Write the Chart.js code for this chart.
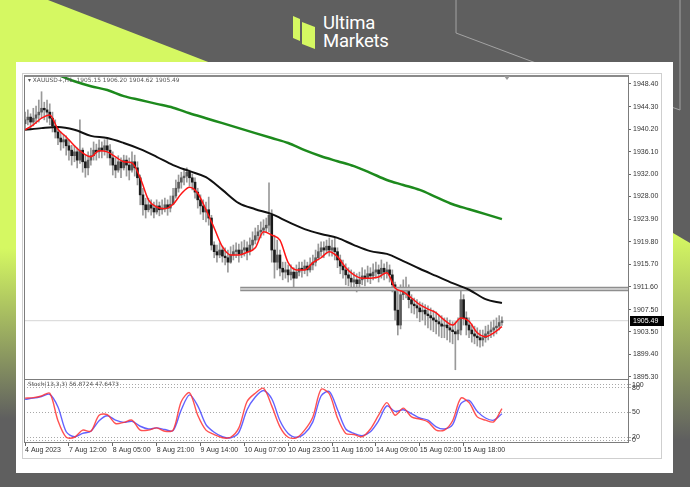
<!DOCTYPE html>
<html><head><meta charset="utf-8">
<script src="https://cdn.jsdelivr.net/npm/chart.js@4.4.0/dist/chart.umd.min.js"></script>
<style>
html,body{margin:0;padding:0;width:690px;height:487px;overflow:hidden;background:#5f5f5f;font-family:"Liberation Sans",Arial,sans-serif}
.abs{position:absolute}
#panel{left:16px;top:62px;width:657px;height:411px;background:#fff}
#frame{left:22px;top:73px;width:638px;height:384px;border:1px solid #cfcfcf}
#mainBox{left:24px;top:75px;width:603px;height:302px;border:1px solid #7c7c7c;border-top:2px solid #8a8a8a}
#stBox{left:24px;top:379px;width:603px;height:62px;border:1px solid #7c7c7c}
#c1{left:24px;top:76px}
#c2{left:24px;top:380px}
.logo{color:#fff;font-family:Roboto,"Liberation Sans",sans-serif;font-size:18.5px;line-height:18px;letter-spacing:-0.2px}
.leg{font-family:"DejaVu Sans",sans-serif;color:#555;white-space:nowrap}
#shift{left:504px;top:76px;width:0;height:0;border-left:3px solid transparent;border-right:3px solid transparent;border-top:4px solid #999}
</style></head>
<body>
<svg class="abs" style="left:0;top:0" width="690" height="487">
 <defs>
  <linearGradient id="gl" x1="0" y1="0" x2="0" y2="487" gradientUnits="userSpaceOnUse">
   <stop offset="0" stop-color="#d5f862"/><stop offset="0.51" stop-color="#d5f862"/><stop offset="0.86" stop-color="#5f5f5f"/>
  </linearGradient>
  <linearGradient id="gr" x1="0" y1="235" x2="0" y2="440" gradientUnits="userSpaceOnUse">
   <stop offset="0" stop-color="#d5f862"/><stop offset="1" stop-color="#5f5f5f"/>
  </linearGradient>
 </defs>
 <polygon points="0,0 48,0 260,82 16,82 16,487 0,487" fill="url(#gl)"/>
 <polygon points="600,190 690,243 690,487 600,487" fill="url(#gr)"/>
 <polyline points="456,0 456,33 560,72" stroke="#a3a3a3" stroke-width="1" fill="none"/>
 <polyline points="680,0 680,110 640,96" stroke="#a3a3a3" stroke-width="1" fill="none"/>
 <polygon points="293,16 300,19 300,41 293,38" fill="#d5f862"/>
 <polygon points="302,22 315,27 315,49 302,44" fill="#d5f862"/>
</svg>
<div class="abs logo" style="left:323px;top:14px">Ultima</div>
<div class="abs logo" style="left:323px;top:32px">Markets</div>
<div class="abs" id="panel"></div>
<div class="abs" id="frame"></div>
<canvas class="abs" id="c1" width="644" height="312"></canvas>
<canvas class="abs" id="c2" width="644" height="80"></canvas>
<div class="abs" id="mainBox"></div>
<div class="abs" id="stBox"></div>
<div class="abs" id="shift"></div>
<div class="abs leg" style="left:28px;top:77px;font-size:5.9px">▾ XAUUSD+,H1&nbsp; 1905.15 1906.20 1904.62 1905.49</div>
<div class="abs leg" style="left:28px;top:381px;font-size:5.8px">Stoch(13,3,3) 56.8724 47.6473</div>
<script>
// ---------- data ----------
const X_MIN = -0.4, X_MAX = 220;
const OPEN0 = 1941.2;
const CLOSE = [
1941.9,1942.4,1941.5,1942.2,1942.8,1943.3,1944.0,1943.7,1943.3,1942.2,
1940.8,1939.7,1938.6,1937.9,1938.3,1937.2,1936.4,1935.4,1936.1,1934.6,
1936.4,1934.3,1933.2,1934.6,1935.4,1936.4,1936.1,1936.8,1936.4,1937.2,
1936.4,1935.0,1933.7,1932.8,1934.3,1933.2,1934.6,1933.7,1932.8,1934.3,
1933.2,1931.4,1928.3,1926.5,1925.6,1926.5,1925.9,1925.2,1926.3,1925.6,
1925.9,1926.5,1925.9,1926.6,1928.1,1929.5,1930.6,1931.4,1931.7,1932.4,
1931.4,1930.6,1928.8,1927.4,1926.3,1925.2,1925.6,1924.1,1919.2,1918.0,
1917.4,1918.3,1917.2,1916.9,1916.1,1917.4,1918.0,1918.3,1917.6,1918.3,
1918.7,1918.0,1919.2,1920.1,1920.9,1921.6,1921.9,1922.3,1922.8,1924.6,
1918.3,1916.1,1917.4,1915.0,1914.3,1914.7,1913.8,1914.3,1913.2,1914.3,
1915.0,1914.7,1915.4,1914.7,1915.6,1916.1,1916.9,1918.0,1918.7,1918.3,
1919.0,1918.3,1918.7,1918.0,1916.5,1915.4,1914.7,1913.8,1913.2,1912.5,
1912.9,1912.2,1912.9,1913.6,1913.2,1914.0,1913.6,1914.3,1914.7,1914.0,
1915.0,1914.3,1914.7,1913.8,1912.0,1907.4,1904.7,1910.2,1911.1,1911.4,
1909.3,1908.5,1908.2,1907.8,1907.1,1907.4,1906.7,1906.4,1906.0,1905.6,
1905.3,1904.9,1904.5,1904.7,1904.2,1903.8,1903.5,1903.1,1903.8,1909.3,
1906.0,1904.7,1903.8,1903.1,1902.7,1902.4,1902.0,1902.4,1903.1,1903.5,
1903.8,1904.2,1904.5,1905.15,1905.49];
const HIGH = [
1943.3,1943.7,1943.0,1944.0,1944.4,1945.5,1947.0,1945.1,1945.5,1944.8,
1943.3,1941.9,1940.4,1939.7,1939.3,1939.0,1938.3,1937.3,1937.2,1936.8,
1941.9,1936.8,1935.5,1936.1,1936.8,1937.9,1937.5,1938.3,1937.9,1938.3,
1938.6,1937.4,1936.1,1935.0,1935.4,1935.0,1935.5,1935.4,1935.0,1936.1,
1935.5,1934.3,1931.9,1929.5,1927.7,1927.7,1927.4,1927.0,1927.4,1927.0,
1927.4,1927.7,1927.4,1928.1,1929.5,1931.0,1931.9,1932.4,1932.8,1933.2,
1932.8,1932.1,1931.4,1929.5,1928.3,1927.4,1927.0,1927.9,1924.6,1919.8,
1919.2,1919.6,1919.0,1918.7,1918.3,1918.9,1919.2,1919.6,1919.4,1919.8,
1920.1,1919.8,1920.5,1921.6,1922.3,1922.8,1923.4,1923.8,1924.1,1930.5,
1925.6,1921.0,1920.1,1918.3,1916.1,1916.1,1915.6,1915.6,1915.1,1915.6,
1916.1,1916.1,1916.5,1916.1,1916.9,1917.4,1918.3,1919.4,1919.8,1919.8,
1920.1,1920.5,1920.1,1920.5,1918.7,1917.4,1916.5,1915.8,1915.1,1914.7,
1914.3,1914.0,1914.3,1915.1,1914.7,1915.4,1915.1,1915.8,1916.1,1915.6,
1916.5,1915.8,1916.1,1915.6,1914.7,1912.5,1911.1,1912.0,1912.9,1913.4,
1912.0,1910.2,1909.6,1909.3,1908.9,1908.7,1908.4,1908.2,1907.8,1907.4,
1907.1,1906.5,1906.4,1906.0,1906.0,1905.6,1905.3,1905.3,1906.0,1911.4,
1910.2,1907.1,1906.0,1904.9,1904.5,1904.2,1903.8,1903.8,1904.5,1904.7,
1905.3,1905.6,1906.0,1906.4,1906.20];
const LOW = [
1940.4,1941.0,1940.1,1940.8,1941.2,1941.5,1942.2,1941.9,1941.5,1941.0,
1939.7,1938.6,1937.4,1936.4,1936.8,1935.5,1934.6,1933.7,1934.3,1933.2,
1934.0,1932.4,1931.5,1931.9,1933.7,1934.6,1934.6,1935.0,1935.0,1935.5,
1935.0,1933.7,1931.9,1931.4,1932.4,1931.4,1932.8,1931.7,1931.0,1932.4,
1931.7,1930.1,1926.5,1924.6,1924.1,1925.2,1924.6,1924.1,1924.8,1924.5,
1924.8,1925.2,1924.6,1925.2,1926.5,1927.7,1928.8,1929.5,1930.1,1930.6,
1929.9,1929.2,1927.7,1925.9,1924.8,1923.8,1923.4,1922.8,1918.3,1916.9,
1916.1,1916.9,1916.1,1915.6,1914.3,1915.9,1916.5,1916.9,1916.1,1916.9,
1917.2,1916.5,1917.4,1918.3,1919.4,1920.1,1920.5,1921.0,1921.6,1921.6,
1916.1,1913.2,1914.7,1913.6,1912.9,1913.2,1912.5,1912.9,1911.1,1913.2,
1913.6,1913.4,1914.0,1913.6,1914.3,1914.7,1915.4,1916.5,1917.2,1916.9,
1917.6,1917.2,1917.2,1916.5,1915.1,1914.0,1913.2,1912.0,1911.8,1911.1,
1911.4,1910.7,1911.4,1912.0,1911.8,1912.5,1912.2,1912.9,1913.2,1912.5,
1913.2,1912.9,1913.2,1912.5,1910.7,1905.6,1902.9,1904.0,1909.3,1909.6,
1907.8,1906.9,1906.7,1906.0,1905.3,1905.6,1904.7,1904.2,1903.8,1903.5,
1903.1,1902.7,1902.4,1902.4,1902.0,1901.6,1901.3,1896.6,1902.0,1902.9,
1904.7,1902.9,1902.4,1901.6,1901.3,1900.9,1900.7,1900.9,1901.6,1902.0,
1902.4,1902.7,1903.1,1903.8,1904.62];

const RED_STEP = 3;
const MA_RED = [
1940.1,1941.0,1942.2,1942.8,1940.2,1938.8,1937.2,1935.9,1935.2,1936.3,
1936.1,1935.2,1934.3,1934.1,1931.4,1927.4,1926.1,1925.8,1926.6,1928.5,
1929.7,1928.6,1925.6,1922.3,1918.9,1917.4,1917.4,1917.9,1918.7,1921.6,
1921.0,1920.1,1916.0,1914.7,1914.7,1916.0,1916.9,1918.0,1917.1,1915.1,
1913.8,1913.2,1913.2,1913.4,1914.2,1911.4,1910.7,1909.6,1908.4,1907.6,
1906.9,1905.6,1904.7,1906.0,1905.4,1903.3,1902.6,1903.3,1904.4];
const MA_STEP = 6;
const MA_BLACK = [
1940.1,1940.4,1940.6,1940.1,1939.0,1938.6,1937.7,1936.6,1935.2,1933.7,
1932.6,1931.5,1929.2,1926.8,1925.7,1924.8,1923.4,1922.1,1921.2,1920.5,
1919.2,1918.1,1917.6,1916.3,1914.9,1913.6,1912.3,1911.1,1909.4,1908.7];
const MA_GREEN = [
1951.7,1950.8,1950.0,1948.9,1948.0,1947.3,1946.2,1945.5,1944.8,1944.1,
1943.1,1942.2,1941.3,1940.4,1939.5,1938.6,1937.7,1936.4,1935.3,1934.4,
1933.5,1932.3,1931.0,1930.1,1929.2,1927.9,1926.6,1925.7,1924.8,1923.9];

const LEVEL_FROM = 78.5, LEVEL_PRICE = 1911.25;
const LAST_PRICE = 1905.49;
const Y_MIN = 1895.1, Y_MAX = 1949.85;
const PRICE_TICKS = [1948.40,1944.30,1940.20,1936.10,1932.00,1928.00,1923.90,1919.80,1915.70,1911.60,1907.50,1903.50,1899.40,1895.30];
const PRICE_LABELS = ['1948.40','1944.30','1940.20','1936.10','1932.00','1928.00','1923.90','1919.80','1915.70','1911.60','1907.50','1903.50','1899.40','1895.30'];

const STOCH_STEP = 3;
const STOCH_K = [
76,77,80,85,35,5,5,18,16,45,
46,30,32,36,18,18,22,16,18,70,
86,45,18,10,4,5,22,70,85,94,
62,24,5,4,18,42,92,84,40,12,
10,6,20,45,68,45,58,42,38,33,
18,18,35,76,68,42,36,33,56.87];
const STOCH_D = [
74,76,79,83,60,15,6,12,16,35,
44,36,32,34,25,20,22,19,17,55,
82,62,28,14,6,4,14,55,78,90,
75,35,12,5,12,33,80,88,55,20,
12,8,15,35,62,52,55,48,40,36,
24,20,28,66,72,52,40,36,47.65];
const ST_MIN = -3.6, ST_MAX = 109;
const STOCH_TICKS = [100,95,50,5,0];
const STOCH_LABELS = ['100','80','50','20','0'];

const TIME_TICKS = [0,16,32,48,64,80,96,112,128,144,160];
const TIME_LABELS = ['4 Aug 2023','7 Aug 12:00','8 Aug 05:00','8 Aug 21:00','9 Aug 14:00','10 Aug 07:00','10 Aug 23:00','11 Aug 16:00','14 Aug 09:00','15 Aug 02:00','15 Aug 18:00'];

// ---------- build ----------
const idx = CLOSE.map((_, i) => i);
const OPEN = CLOSE.map((c, i) => i === 0 ? OPEN0 : CLOSE[i - 1]);
const stepPts = (arr, step) => arr.map((v, k) => ({x: k * step, y: v}));
const axFont = {family: '"Liberation Sans", Arial, sans-serif', size: 7};

const fixY = (w) => (s) => { s.width = w; s.paddingTop = 0; s.paddingBottom = 0; };

const tagPlugin = {
  id: 'tag',
  afterDraw(chart) {
    const y = chart.scales.y.getPixelForValue(LAST_PRICE);
    const ctx = chart.ctx, x = chart.chartArea.right + 2;
    ctx.save();
    ctx.fillStyle = '#000';
    ctx.fillRect(x, Math.round(y) - 5, 34, 10);
    ctx.fillStyle = '#fff';
    ctx.font = '7px "Liberation Sans", Arial, sans-serif';
    ctx.textBaseline = 'middle';
    ctx.fillText(LAST_PRICE.toFixed(2), x + 3, Math.round(y));
    ctx.restore();
  }
};

new Chart(document.getElementById('c1'), {
  type: 'bar',
  data: {
    datasets: [
      {type: 'line', data: stepPts(MA_RED, RED_STEP), borderColor: '#ff1414', borderWidth: 1.5, pointRadius: 0, cubicInterpolationMode: 'monotone', order: 1},
      {type: 'line', data: stepPts(MA_BLACK, MA_STEP), borderColor: '#111', borderWidth: 2, pointRadius: 0, cubicInterpolationMode: 'monotone', order: 2},
      {type: 'line', data: stepPts(MA_GREEN, MA_STEP), borderColor: '#1d8a1d', borderWidth: 2.5, pointRadius: 0, cubicInterpolationMode: 'monotone', order: 3},
      {type: 'line', data: [{x: LEVEL_FROM, y: LEVEL_PRICE}, {x: X_MAX, y: LEVEL_PRICE}], borderColor: '#dcdcdc', borderWidth: 1.5, pointRadius: 0, order: 4},
      {type: 'line', data: [{x: LEVEL_FROM, y: LEVEL_PRICE}, {x: X_MAX, y: LEVEL_PRICE}], borderColor: '#8e8e8e', borderWidth: 4.5, pointRadius: 0, order: 5},
      {type: 'line', data: [{x: X_MIN, y: LAST_PRICE}, {x: X_MAX, y: LAST_PRICE}], borderColor: '#d6d6d6', borderWidth: 1, pointRadius: 0, order: 20},
      {data: idx.map(i => ({x: i, y: [OPEN[i], CLOSE[i]]})), backgroundColor: idx.map(i => CLOSE[i] >= OPEN[i] ? '#5a5a5a' : '#1a1a1a'), barThickness: 2, minBarLength: 1, grouped: false, order: 10},
      {data: idx.map(i => ({x: i, y: [LOW[i], HIGH[i]]})), backgroundColor: '#999', barThickness: 1, grouped: false, order: 11}
    ]
  },
  options: {
    responsive: false, animation: false, events: [],
    layout: {padding: {top: 0, left: 0, right: 0, bottom: 10}},
    plugins: {legend: {display: false}, tooltip: {enabled: false}},
    scales: {
      x: {type: 'linear', min: X_MIN, max: X_MAX, offset: false, display: false},
      y: {
        position: 'right', min: Y_MIN, max: Y_MAX, beginAtZero: false,
        afterBuildTicks: s => { s.ticks = PRICE_TICKS.map(v => ({value: v})); },
        afterFit: fixY(40),
        ticks: {font: axFont, color: '#333', padding: 2, autoSkip: false,
          callback: v => PRICE_LABELS[PRICE_TICKS.indexOf(v)]},
        grid: {drawOnChartArea: false, drawTicks: true, tickLength: 3, color: '#666'},
        border: {display: false}
      }
    }
  },
  plugins: [tagPlugin]
});

new Chart(document.getElementById('c2'), {
  type: 'line',
  data: {
    datasets: [
      {data: stepPts(STOCH_K, STOCH_STEP), borderColor: 'rgba(255,50,50,0.85)', borderWidth: 1.4, pointRadius: 0, tension: 0.3, order: 1},
      {data: stepPts(STOCH_D, STOCH_STEP), borderColor: 'rgba(70,70,255,0.85)', borderWidth: 1.4, pointRadius: 0, tension: 0.3, order: 2}
    ]
  },
  options: {
    responsive: false, animation: false, events: [],
    layout: {padding: 0},
    plugins: {legend: {display: false}, tooltip: {enabled: false}},
    scales: {
      x: {
        type: 'linear', min: X_MIN, max: X_MAX, offset: false,
        afterBuildTicks: s => { s.ticks = TIME_TICKS.map(v => ({value: v})); },
        afterFit: s => { s.height = 18; s.paddingLeft = 0; s.paddingRight = 0; },
        ticks: {font: axFont, color: '#333', align: 'start', maxRotation: 0, autoSkip: false, padding: 0,
          callback: v => TIME_LABELS[TIME_TICKS.indexOf(v)]},
        grid: {drawOnChartArea: false, drawTicks: true, tickLength: 4, color: '#666'},
        border: {display: false}
      },
      y: {
        position: 'right', min: ST_MIN, max: ST_MAX,
        afterBuildTicks: s => { s.ticks = STOCH_TICKS.map(v => ({value: v})); },
        afterFit: fixY(40),
        ticks: {font: axFont, color: '#333', padding: 1, autoSkip: false,
          callback: v => STOCH_LABELS[STOCH_TICKS.indexOf(v)]},
        grid: {drawOnChartArea: true, drawTicks: true, tickLength: 3, color: '#a8a8a8'},
        border: {display: false, dash: [1, 2]}
      }
    }
  }
});
</script>
</body></html>
